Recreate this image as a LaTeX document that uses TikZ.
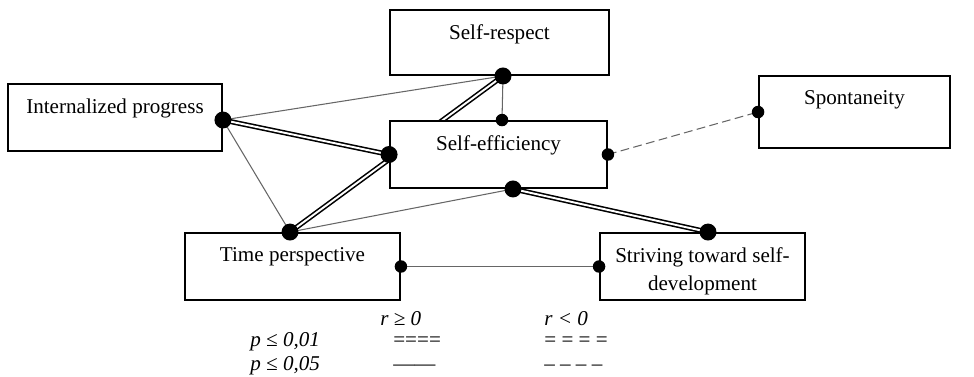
\documentclass[tikz,border=0pt]{standalone}
\usepackage{fontspec}
\setmainfont{Liberation Serif}
\usetikzlibrary{backgrounds}
\begin{document}
\begin{tikzpicture}[x=0.02cm, y=-0.02cm,
  every node/.style={font=\fontsize{12}{16}\selectfont},
  box/.style={draw, line width=1.1pt, fill=white, inner sep=0pt},
  lbl/.style={anchor=north, inner sep=0pt, align=center},
  leg/.style={anchor=base west, inner sep=0pt},
  bigdot/.style={circle, fill=black, inner sep=0pt, minimum size=0.34cm},
  smalldot/.style={circle, fill=black, inner sep=0pt, minimum size=0.25cm},
  strong/.style={line width=0.9pt, double=white, double distance=1.1pt},
  weak/.style={line width=0.6pt, gray!80!black},
  weakneg/.style={weak, dash pattern=on 5pt off 2.5pt}]
\useasboundingbox (0,0) rectangle (974,376);
\node[box, minimum width=4.38cm, minimum height=1.30cm] (resp) at (499.5,42.5) {};
\node[box, minimum width=4.28cm, minimum height=1.34cm] (prog) at (115,117.5) {};
\node[box, minimum width=4.34cm, minimum height=1.34cm] (eff) at (498.5,154.5) {};
\node[box, minimum width=3.82cm, minimum height=1.44cm] (spont) at (854.5,112) {};
\node[box, minimum width=4.30cm, minimum height=1.34cm] (time) at (292.5,266.5) {};
\node[box, minimum width=4.10cm, minimum height=1.34cm] (striv) at (702.5,266.5) {};
\node[lbl] (resp-t) at ([yshift=-0.31cm]resp.north) {Self-respect};
\node[lbl] (prog-t) at ([yshift=-0.31cm]prog.north) {Internalized progress};
\node[lbl] (eff-t) at ([yshift=-0.31cm]eff.north) {Self-efficiency};
\node[lbl] (spont-t) at ([yshift=-0.31cm]spont.north) {Spontaneity};
\node[lbl] (time-t) at ([yshift=-0.31cm]time.north) {Time perspective};
\node[lbl] (striv-t) at ([yshift=-0.31cm]striv.north) {Striving toward self-\\development};
\node[bigdot] (prog-d) at ([yshift=-0.05cm]prog.east) {};
\node[bigdot] (eff-w) at (eff.west) {};
\node[bigdot] (resp-s) at ([xshift=0.07cm]resp.south) {};
\node[smalldot] (eff-n) at ([xshift=0.07cm]eff.north) {};
\node[bigdot] (time-n) at ([xshift=-0.05cm]time.north) {};
\node[bigdot] (eff-s) at ([xshift=0.29cm]eff.south) {};
\node[bigdot] (striv-n) at ([xshift=0.11cm]striv.north) {};
\node[smalldot] (eff-e) at (eff.east) {};
\node[smalldot] (spont-w) at (spont.west) {};
\node[smalldot] (time-e) at (time.east) {};
\node[smalldot] (striv-w) at (striv.west) {};
\begin{scope}[on background layer]
\draw[weak] (prog-d.center) -- (resp-s.center);
\draw[strong] (prog-d.center) -- (eff-w.center);
\draw[weak] (prog-d.center) -- (time-n.center);
\draw[strong] (time-n.center) -- (resp-s.center);
\draw[weak] (time-n.center) -- (eff-s.center);
\draw[strong] (eff-s.center) -- (striv-n.center);
\draw[weak] (resp-s.center) -- (eff-n.center);
\draw[weakneg] (eff-e.center) -- (spont-w.center);
\draw[weak] (time-e.center) -- (striv-w.center);
\end{scope}
\node[leg] (r-pos) at (380,325) {\itshape r ≥ 0};
\node[leg] (r-neg) at (544,325) {\itshape r < 0};
\node[leg] (p-01) at (250,346) {\itshape p ≤ 0,01};
\node[leg] (p-05) at (250,370) {\itshape p ≤ 0,05};
\node[leg] (s-pos) at (393,346) {====};
\node[leg] (s-neg) at (544,346) {= = = =};
\node[leg] (w-pos) at (393,370) {——};
\node[leg] (w-neg) at (544,370) {– – – –};
\end{tikzpicture}
\end{document}
